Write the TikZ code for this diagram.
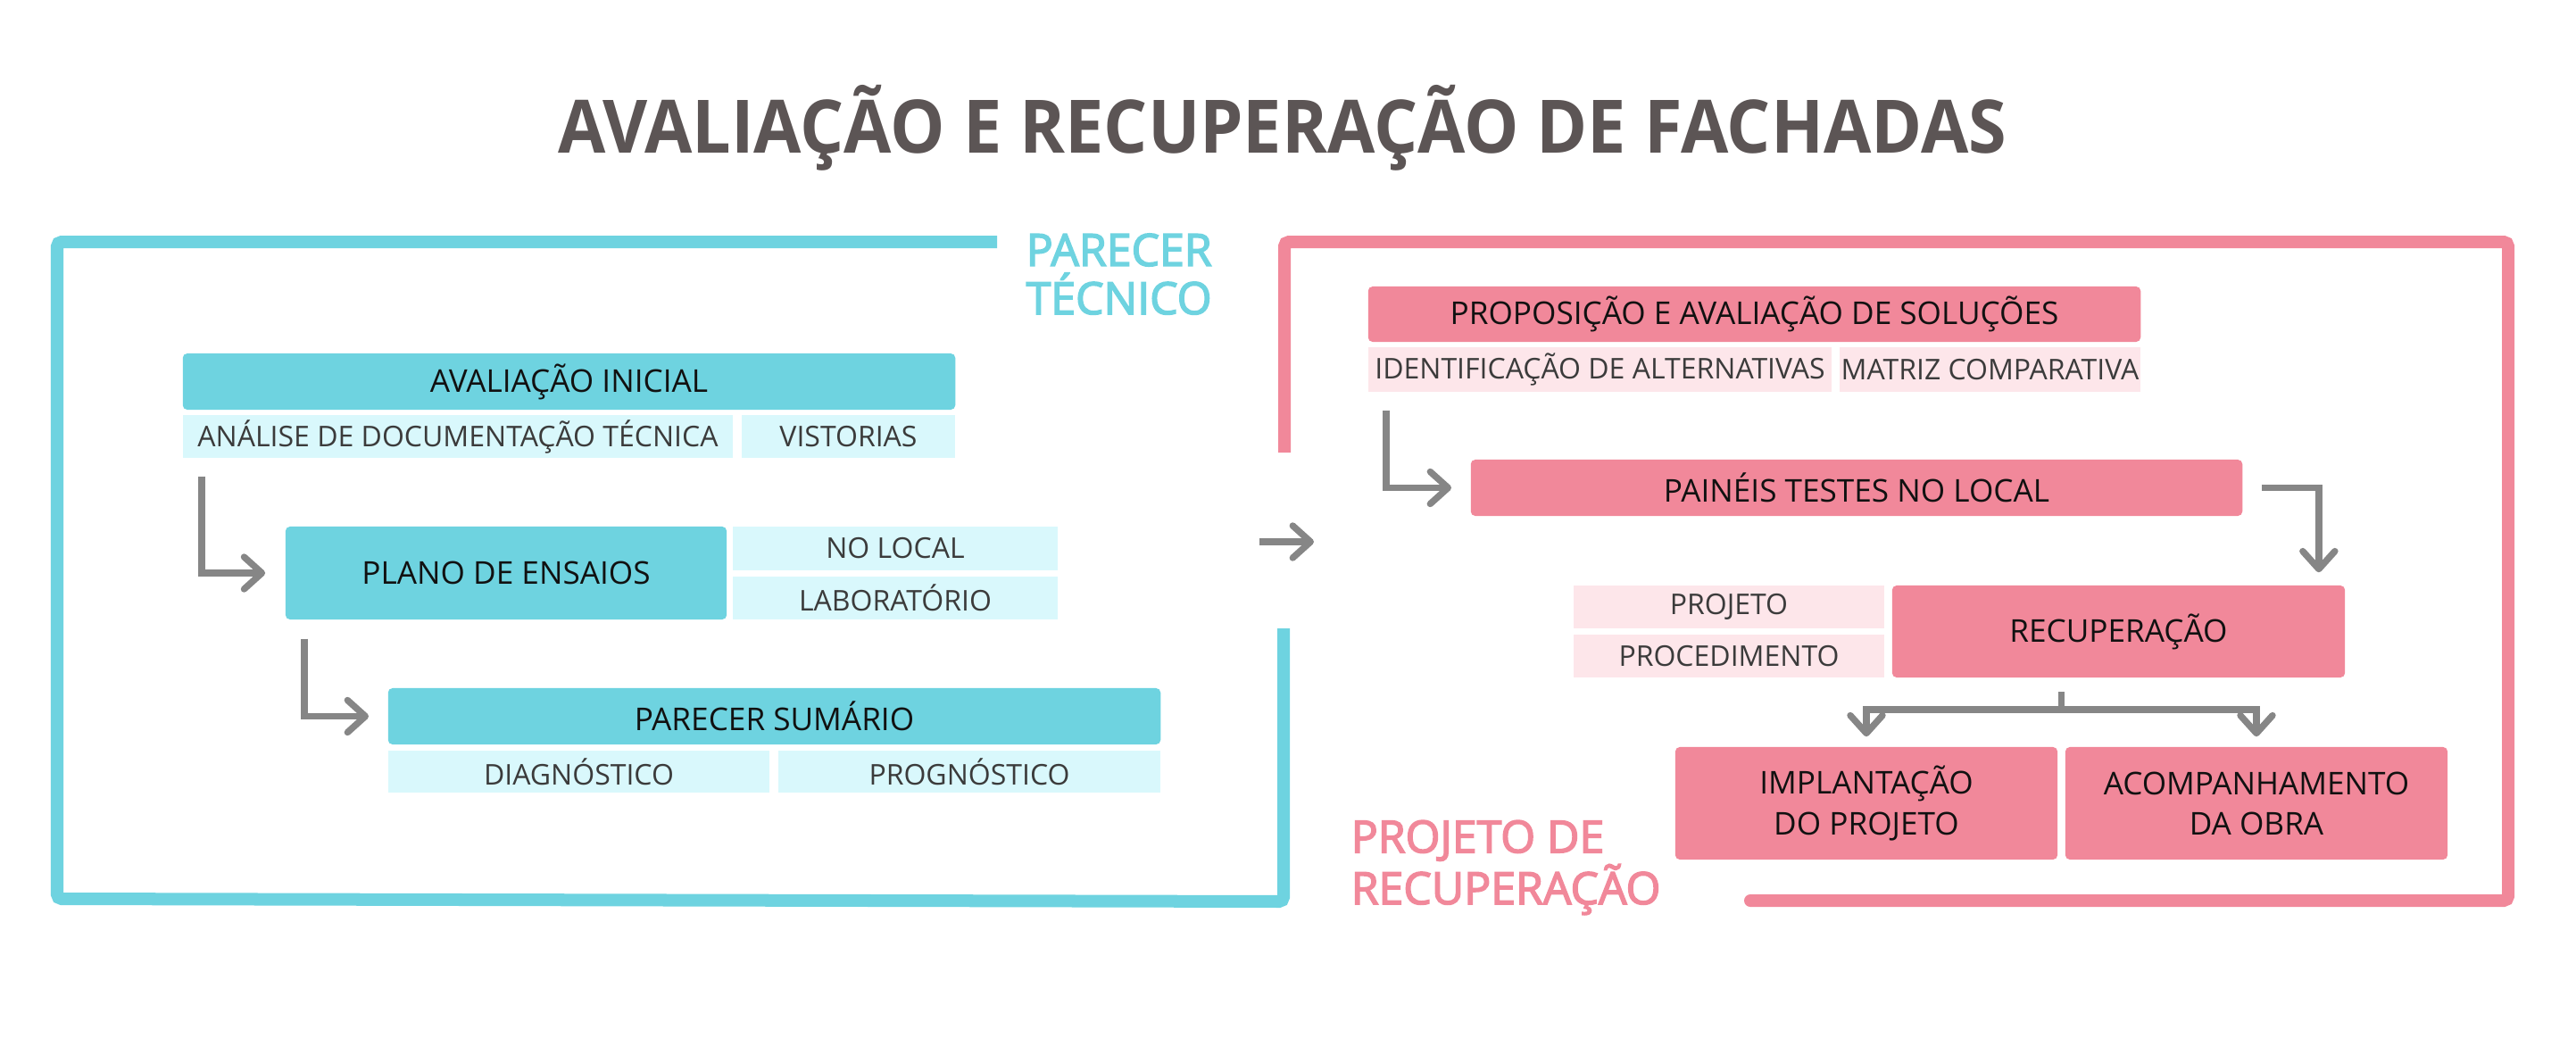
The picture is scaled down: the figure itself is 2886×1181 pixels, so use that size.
\documentclass[tikz,border=0pt]{standalone}
\usepackage{fontspec}
\setmainfont{Open Sans}
\newfontfamily\semibfont{Open Sans}[FakeBold=3]
\usetikzlibrary{arrows.meta,calc}
\definecolor{cblue}{HTML}{6ED3E0}
\definecolor{clblue}{HTML}{D9F8FC}
\definecolor{cpink}{HTML}{F1889A}
\definecolor{clpink}{HTML}{FDE6EA}
\definecolor{cgray}{HTML}{868686}
\definecolor{ctitle}{HTML}{5C5555}
\definecolor{cmain}{HTML}{111111}
\definecolor{csub}{HTML}{3B3B3B}
\tikzset{
  mainbox/.style={rounded corners=0.05cm, inner sep=0pt, text=cmain, align=center,
    font=\fontsize{10pt}{12.8pt}\selectfont},
  bluebox/.style={mainbox, fill=cblue},
  pinkbox/.style={mainbox, fill=cpink},
  subbox/.style={inner sep=0pt, text=csub, font=\fontsize{9.1pt}{11pt}\selectfont},
  lbluebox/.style={subbox, fill=clblue},
  lpinkbox/.style={subbox, fill=clpink},
  gline/.style={draw=cgray, line width=2.1pt},
  garrow/.style={gline, -{Straight Barb[length=0.2cm,width=0.36cm,round]}},
  frame/.style={line width=0.14cm, rounded corners=0.05cm},
  sidelabel/.style={inner sep=0pt, align=left},
}
\begin{document}
\begin{tikzpicture}[x=0.01cm,y=-0.01cm]
\useasboundingbox[fill=white] (0,0) rectangle (2886,1181);

% title
\node[text=ctitle, inner sep=0pt, anchor=base] (title) at (1436.5,171)
  {\scalebox{0.935}[1]{\fontsize{23.5pt}{28pt}\selectfont\bfseries AVALIAÇÃO E RECUPERAÇÃO DE FACHADAS}};

% frames
\draw[frame, draw=cblue] (1117,271) -- (64,271) -- (64,1007) -- (1438,1010) -- (1438,704);
\draw[frame, draw=cpink] (1439,507) -- (1439,271) -- (2810,271) -- (2810,1009) -- (1961,1009);
\fill[cpink] (1961,1002) arc[start angle=90,end angle=270,radius=0.07cm] -- cycle;

% side labels
\node[sidelabel, text=cblue, anchor=base west, font=\fontsize{14.2pt}{15.4pt}\semibfont] (ptec) at (1149,352) {PARECER\\TÉCNICO};
\node[sidelabel, text=cpink, anchor=base west, font=\fontsize{14.2pt}{13.7pt}\semibfont] (prec) at (1513,1013) {PROJETO DE\\RECUPERAÇÃO};

% left side
\node[bluebox, minimum width=8.65cm, minimum height=0.63cm] (avi) at (637.5,427.5) {AVALIAÇÃO INICIAL};
\node[lbluebox, minimum width=6.16cm, minimum height=0.48cm] (ana) at (513,489) {ANÁLISE DE DOCUMENTAÇÃO TÉCNICA};
\node[lbluebox, minimum width=2.39cm, minimum height=0.48cm] (vis) at (950.5,489) {VISTORIAS};

\node[bluebox, minimum width=4.94cm, minimum height=1.04cm] (plano) at (567,642) {PLANO DE ENSAIOS};
\node[lbluebox, minimum width=3.64cm, minimum height=0.49cm] (noloc) at (1003,614.5) {NO LOCAL};
\node[lbluebox, minimum width=3.64cm, minimum height=0.48cm] (lab) at (1003,670) {LABORATÓRIO};

\node[bluebox, minimum width=8.65cm, minimum height=0.63cm] (psum) at (867.5,802.5) {PARECER SUMÁRIO};
\node[lbluebox, minimum width=4.27cm, minimum height=0.47cm] (diag) at (648.5,864.5) {DIAGNÓSTICO};
\node[lbluebox, minimum width=4.28cm, minimum height=0.47cm] (prog) at (1086,864.5) {PROGNÓSTICO};

\draw[garrow, shorten >=0.22cm] ($(ana.south west)+(22,20)$) |- (plano.west);
\draw[garrow, shorten >=0.21cm] ($(plano.south west)+(22,21)$) |- (psum.west);

% center arrow
\coordinate (ca) at (1411,607);
\coordinate (cb) at (1472,607);
\draw[garrow] (ca) -- (cb);

% right side
\node[pinkbox, minimum width=8.65cm, minimum height=0.62cm] (prop) at (1965.5,352) {PROPOSIÇÃO E AVALIAÇÃO DE SOLUÇÕES};
\node[lpinkbox, minimum width=5.19cm, minimum height=0.50cm] (ident) at (1792.5,414) {IDENTIFICAÇÃO DE ALTERNATIVAS};
\node[lpinkbox, minimum width=3.37cm, minimum height=0.50cm] (matriz) at (2229.5,414) {MATRIZ COMPARATIVA};

\node[pinkbox, minimum width=8.64cm, minimum height=0.63cm] (pain) at (2080,546.5) {PAINÉIS TESTES NO LOCAL};

\node[lpinkbox, minimum width=3.48cm, minimum height=0.48cm] (proj) at (1937,680) {PROJETO};
\node[lpinkbox, minimum width=3.48cm, minimum height=0.48cm] (proc) at (1937,735) {PROCEDIMENTO};
\node[pinkbox, minimum width=5.07cm, minimum height=1.03cm] (recup) at (2373.5,707.5) {RECUPERAÇÃO};

\node[pinkbox, minimum width=4.28cm, minimum height=1.26cm] (impl) at (2091,900) {IMPLANTAÇÃO\\DO PROJETO};
\node[pinkbox, minimum width=4.28cm, minimum height=1.26cm] (acomp) at (2528,900) {ACOMPANHAMENTO\\DA OBRA};

\draw[garrow, shorten >=0.21cm] ($(ident.south west)+(21,20)$) |- (pain.west);
\draw[garrow, shorten >=0.14cm] ($(pain.east)+(21,0)$) -| ($(recup.north east)+(-30,0)$);

\coordinate (split) at (2309.5,775);
\draw[gline] (split) -- ++(0,20) coordinate (bar);
\draw[garrow, shorten >=0.11cm] (bar) -| (impl.north);
\draw[garrow, shorten >=0.11cm] (bar) -| (acomp.north);
\end{tikzpicture}
\end{document}
